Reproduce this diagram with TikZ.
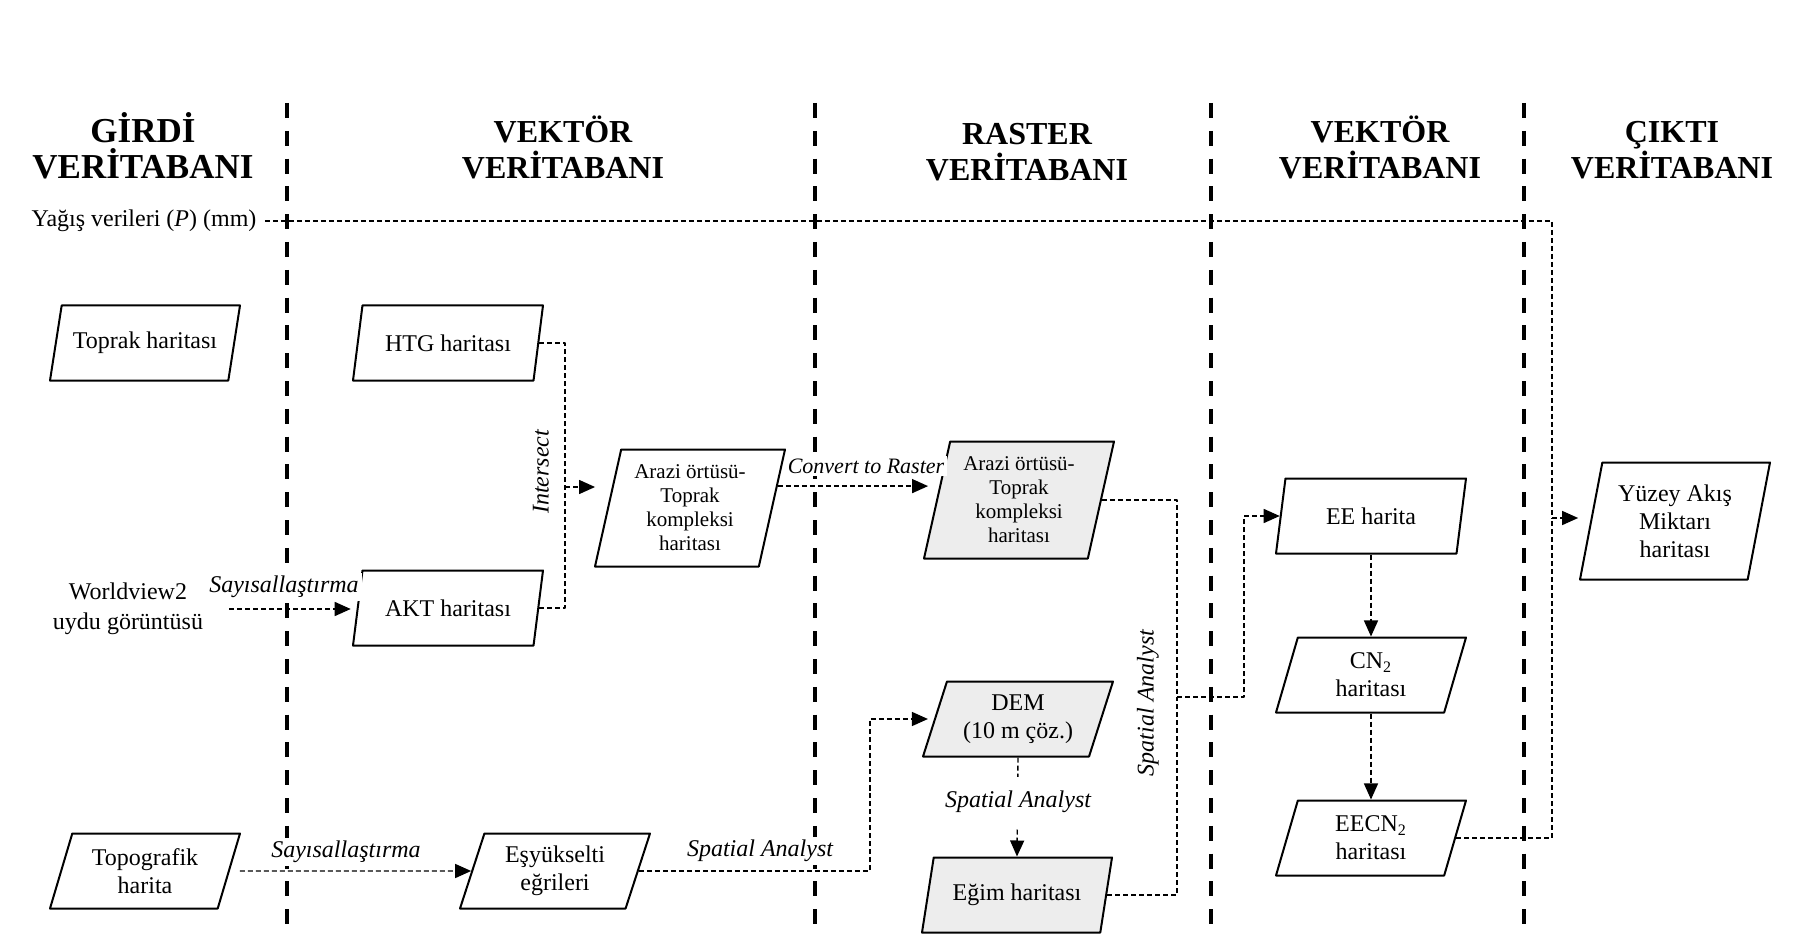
\documentclass[tikz,border=0pt]{standalone}
\usepackage{fontspec}
\setmainfont{Liberation Serif}
\usetikzlibrary{shapes.geometric,arrows.meta}
\begin{document}
\begin{tikzpicture}[x=0.5pt, y=-0.5pt, line join=round, >={Triangle[length=8pt,width=7pt]},
	font=\fontsize{12}{14}\selectfont,
	harita/.style={trapezium, trapezium left angle=65.6, trapezium right angle=114.4, trapezium stretches body,
		minimum width=95pt, minimum height=37.5pt, draw, line width=1pt, fill=white, align=center, inner sep=1pt},
	uzun/.style={trapezium left angle=73.8, trapezium right angle=106.2, minimum height=58.5pt},
	kucuk/.style={font=\fontsize{10.5}{12}\selectfont},
	gri/.style={fill=black!7},
	baslik/.style={font=\bfseries\fontsize{16}{18}\selectfont, align=center, anchor=south, inner sep=0pt},
	metin/.style={align=center, inner sep=2pt},
	etiket/.style={font=\itshape\fontsize{12}{14}\selectfont, fill=white, inner sep=1.5pt},
	yol/.style={line width=0.7pt, dash pattern=on 2.5pt off 1.5pt},
	ayrac/.style={line width=1.7pt, dash pattern=on 7.5pt off 6.4pt}]
	\fill[white, use as bounding box] (0,0) rectangle (1794,936);
	% ayraclar
	\foreach \x in {287,815,1211,1524} \draw[ayrac] (\x,103)--(\x,936);
	% basliklar
	\node[baslik, font=\bfseries\fontsize{17.5}{18}\selectfont] (girdi) at (143,179) {GİRDİ\\VERİTABANI};
	\foreach \n/\x/\y/\t in {vektor/563/179/VEKTÖR, raster/1027/181/RASTER, vektorb/1380/179/VEKTÖR, cikti/1672/179/ÇIKTI}
		\node[baslik] (\n) at (\x,\y) {\t\\VERİTABANI};
	% girdiler
	\node[metin] (yagis) at (144,221) {Yağış verileri (\textit{P}) (mm)};
	\node[metin, font=\fontsize{12}{15}\selectfont] (wv) at (128,609) {Worldview2\\uydu görüntüsü};
	\node[harita] (toprak) at (145,343) {Toprak haritası};
	\node[harita] (topo) at (145,871) {Topografik\\harita};
	% vektor
	\node[harita] (htg) at (448,343) {HTG haritası};
	\node[harita] (akt) at (448,608) {AKT haritası};
	\node[harita] (esy) at (555,871) {Eşyükselti\\eğrileri};
	\node[harita,uzun,kucuk] (avec) at (690,508) {Arazi örtüsü-\\Toprak\\kompleksi\\haritası};
	% raster
	\node[harita,uzun,kucuk,gri] (arast) at (1019,500) {Arazi örtüsü-\\Toprak\\kompleksi\\haritası};
	\node[harita,gri] (dem) at (1018,719) {DEM\\(10 m çöz.)};
	\node[harita,gri] (egim) at (1017,895) {Eğim haritası};
	% vektor 2
	\node[harita] (ee) at (1371,516) {EE harita};
	\node[harita] (cn) at (1371,675) {CN\textsubscript{2}\\haritası};
	\node[harita] (eecn) at (1371,838) {EECN\textsubscript{2}\\haritası};
	% cikti
	\node[harita,uzun] (yuzey) at (1675,521) {Yüzey Akış\\Miktarı\\haritası};
	% baglantilar
	\coordinate (kesis) at (565,487);
	\coordinate (dembag) at (870,790);
	\coordinate (sabag) at (1177,697);
	\coordinate (eebag) at (1244,697);
	\coordinate (yzbag) at (1552,518);
	\draw[yol,->,shorten <=11pt,shorten >=3pt] (wv.east)--(wv.east -| akt.west);
	\draw[yol,->,shorten <=5pt] (topo.east)--(esy.west);
	\draw[yol] (htg.east)-|(kesis);
	\draw[yol] (akt.east)-|(kesis);
	\draw[yol,->,shorten >=6pt] (kesis)--(kesis -| avec.west);
	\draw[yol,->,shorten >=4pt] (avec.14)--(avec.14 -| arast.west);
	\draw[yol,->,shorten >=3pt] (esy.east)-|(dembag)|-(dem.west);
	\draw[yol,->] (dem.south -| dem.center)--(egim.north -| egim.center);
	\draw[yol] (arast.east)-|(sabag);
	\draw[yol] (egim.east)-|(sabag);
	\draw[yol,->] (sabag)--(eebag)|-(ee.west);
	\draw[yol,->] (ee.south -| ee.center)--(cn.north -| cn.center);
	\draw[yol,->] (cn.south -| cn.center)--(eecn.north -| eecn.center);
	\draw[yol,shorten <=2pt] (yagis.east)-|(yzbag);
	\draw[yol] (eecn.east)-|(yzbag);
	\draw[yol,->,shorten >=6pt] (yzbag)--(yzbag -| yuzey.west);
	% etiketler
	\node[etiket] (say1) at (284,587) {Sayısallaştırma};
	\node[etiket] (say2) at (346,852) {Sayısallaştırma};
	\node[etiket] (sa1) at (760,851) {Spatial Analyst};
	\node[etiket,inner ysep=7pt] (sa2) at (1018,802) {Spatial Analyst};
	\node[etiket,fill=none,rotate=90] (sa3) at (1148,703) {Spatial Analyst};
	\node[etiket,fill=none,rotate=90] (kesisim) at (541,472) {Intersect};
	\node[etiket,font=\itshape\fontsize{11}{13}\selectfont] (donustur) at (866,466) {Convert to Raster};
\end{tikzpicture}
\end{document}
